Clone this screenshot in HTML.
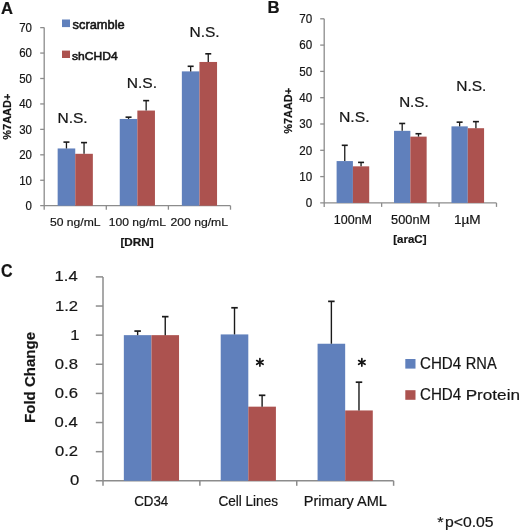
<!DOCTYPE html><html><head><meta charset="utf-8"><style>html,body{margin:0;padding:0;background:#fff;width:520px;height:532px;overflow:hidden}svg{display:block;filter:blur(0.3px)}text{font-family:"Liberation Sans",sans-serif;fill:#151515;stroke:#151515;stroke-width:0.2px}.lg text{stroke-width:0.55px}</style></head><body>
<svg width="520" height="532" viewBox="0 0 520 532">
<line x1="44.2" y1="27.62" x2="44.2" y2="209.7" stroke="#8c8c8c" stroke-width="1.3"/>
<line x1="40.2" y1="205.7" x2="230.5" y2="205.7" stroke="#8c8c8c" stroke-width="1.3"/>
<line x1="40.2" y1="180.26" x2="44.2" y2="180.26" stroke="#8c8c8c" stroke-width="1.3"/>
<line x1="40.2" y1="154.82" x2="44.2" y2="154.82" stroke="#8c8c8c" stroke-width="1.3"/>
<line x1="40.2" y1="129.38" x2="44.2" y2="129.38" stroke="#8c8c8c" stroke-width="1.3"/>
<line x1="40.2" y1="103.94" x2="44.2" y2="103.94" stroke="#8c8c8c" stroke-width="1.3"/>
<line x1="40.2" y1="78.5" x2="44.2" y2="78.5" stroke="#8c8c8c" stroke-width="1.3"/>
<line x1="40.2" y1="53.06" x2="44.2" y2="53.06" stroke="#8c8c8c" stroke-width="1.3"/>
<line x1="40.2" y1="27.62" x2="44.2" y2="27.62" stroke="#8c8c8c" stroke-width="1.3"/>
<line x1="106.3" y1="205.7" x2="106.3" y2="209.7" stroke="#8c8c8c" stroke-width="1.3"/>
<line x1="168.4" y1="205.7" x2="168.4" y2="209.7" stroke="#8c8c8c" stroke-width="1.3"/>
<line x1="230.5" y1="205.7" x2="230.5" y2="209.7" stroke="#8c8c8c" stroke-width="1.3"/>
<rect x="57.65" y="148.46" width="17.6" height="57.24" fill="#6080BC"/>
<rect x="75.25" y="153.8" width="17.6" height="51.9" fill="#AC524F"/>
<rect x="119.75" y="118.95" width="17.6" height="86.75" fill="#6080BC"/>
<rect x="137.35" y="110.55" width="17.6" height="95.15" fill="#AC524F"/>
<rect x="181.85" y="71.38" width="17.6" height="134.32" fill="#6080BC"/>
<rect x="199.45" y="61.96" width="17.6" height="143.74" fill="#AC524F"/>
<line x1="66.45" y1="148.46" x2="66.45" y2="142.1" stroke="#1a1a1a" stroke-width="1.3"/>
<line x1="63.45" y1="142.1" x2="69.45" y2="142.1" stroke="#1a1a1a" stroke-width="1.6"/>
<line x1="84.05" y1="153.8" x2="84.05" y2="142.61" stroke="#1a1a1a" stroke-width="1.3"/>
<line x1="81.05" y1="142.61" x2="87.05" y2="142.61" stroke="#1a1a1a" stroke-width="1.6"/>
<line x1="128.55" y1="118.95" x2="128.55" y2="117.17" stroke="#1a1a1a" stroke-width="1.3"/>
<line x1="125.55" y1="117.17" x2="131.55" y2="117.17" stroke="#1a1a1a" stroke-width="1.6"/>
<line x1="146.15" y1="110.55" x2="146.15" y2="100.63" stroke="#1a1a1a" stroke-width="1.3"/>
<line x1="143.15" y1="100.63" x2="149.15" y2="100.63" stroke="#1a1a1a" stroke-width="1.6"/>
<line x1="190.65" y1="71.38" x2="190.65" y2="66.29" stroke="#1a1a1a" stroke-width="1.3"/>
<line x1="187.65" y1="66.29" x2="193.65" y2="66.29" stroke="#1a1a1a" stroke-width="1.6"/>
<line x1="208.25" y1="61.96" x2="208.25" y2="53.82" stroke="#1a1a1a" stroke-width="1.3"/>
<line x1="205.25" y1="53.82" x2="211.25" y2="53.82" stroke="#1a1a1a" stroke-width="1.6"/>
<line x1="324.2" y1="18.8" x2="324.2" y2="206.9" stroke="#8c8c8c" stroke-width="1.3"/>
<line x1="320.2" y1="202.9" x2="496.49" y2="202.9" stroke="#8c8c8c" stroke-width="1.3"/>
<line x1="320.2" y1="176.6" x2="324.2" y2="176.6" stroke="#8c8c8c" stroke-width="1.3"/>
<line x1="320.2" y1="150.3" x2="324.2" y2="150.3" stroke="#8c8c8c" stroke-width="1.3"/>
<line x1="320.2" y1="124" x2="324.2" y2="124" stroke="#8c8c8c" stroke-width="1.3"/>
<line x1="320.2" y1="97.7" x2="324.2" y2="97.7" stroke="#8c8c8c" stroke-width="1.3"/>
<line x1="320.2" y1="71.4" x2="324.2" y2="71.4" stroke="#8c8c8c" stroke-width="1.3"/>
<line x1="320.2" y1="45.1" x2="324.2" y2="45.1" stroke="#8c8c8c" stroke-width="1.3"/>
<line x1="320.2" y1="18.8" x2="324.2" y2="18.8" stroke="#8c8c8c" stroke-width="1.3"/>
<line x1="381.63" y1="202.9" x2="381.63" y2="206.9" stroke="#8c8c8c" stroke-width="1.3"/>
<line x1="439.06" y1="202.9" x2="439.06" y2="206.9" stroke="#8c8c8c" stroke-width="1.3"/>
<line x1="496.49" y1="202.9" x2="496.49" y2="206.9" stroke="#8c8c8c" stroke-width="1.3"/>
<rect x="336.61" y="161.08" width="16.3" height="41.82" fill="#6080BC"/>
<rect x="352.91" y="166.34" width="16.3" height="36.56" fill="#AC524F"/>
<rect x="394.04" y="130.84" width="16.3" height="72.06" fill="#6080BC"/>
<rect x="410.34" y="136.62" width="16.3" height="66.28" fill="#AC524F"/>
<rect x="451.47" y="126.37" width="16.3" height="76.53" fill="#6080BC"/>
<rect x="467.77" y="128.21" width="16.3" height="74.69" fill="#AC524F"/>
<line x1="344.76" y1="161.08" x2="344.76" y2="145.3" stroke="#1a1a1a" stroke-width="1.3"/>
<line x1="341.76" y1="145.3" x2="347.76" y2="145.3" stroke="#1a1a1a" stroke-width="1.6"/>
<line x1="361.06" y1="166.34" x2="361.06" y2="162.4" stroke="#1a1a1a" stroke-width="1.3"/>
<line x1="358.06" y1="162.4" x2="364.06" y2="162.4" stroke="#1a1a1a" stroke-width="1.6"/>
<line x1="402.19" y1="130.84" x2="402.19" y2="123.47" stroke="#1a1a1a" stroke-width="1.3"/>
<line x1="399.19" y1="123.47" x2="405.19" y2="123.47" stroke="#1a1a1a" stroke-width="1.6"/>
<line x1="418.49" y1="136.62" x2="418.49" y2="133.73" stroke="#1a1a1a" stroke-width="1.3"/>
<line x1="415.49" y1="133.73" x2="421.49" y2="133.73" stroke="#1a1a1a" stroke-width="1.6"/>
<line x1="459.62" y1="126.37" x2="459.62" y2="122.16" stroke="#1a1a1a" stroke-width="1.3"/>
<line x1="456.62" y1="122.16" x2="462.62" y2="122.16" stroke="#1a1a1a" stroke-width="1.6"/>
<line x1="475.92" y1="128.21" x2="475.92" y2="121.63" stroke="#1a1a1a" stroke-width="1.3"/>
<line x1="472.92" y1="121.63" x2="478.92" y2="121.63" stroke="#1a1a1a" stroke-width="1.6"/>
<line x1="103" y1="276.89" x2="103" y2="485.8" stroke="#8c8c8c" stroke-width="1.5"/>
<line x1="95.8" y1="480.8" x2="393.61" y2="480.8" stroke="#8c8c8c" stroke-width="1.5"/>
<line x1="95.8" y1="451.67" x2="103" y2="451.67" stroke="#8c8c8c" stroke-width="1.5"/>
<line x1="95.8" y1="422.54" x2="103" y2="422.54" stroke="#8c8c8c" stroke-width="1.5"/>
<line x1="95.8" y1="393.41" x2="103" y2="393.41" stroke="#8c8c8c" stroke-width="1.5"/>
<line x1="95.8" y1="364.28" x2="103" y2="364.28" stroke="#8c8c8c" stroke-width="1.5"/>
<line x1="95.8" y1="335.15" x2="103" y2="335.15" stroke="#8c8c8c" stroke-width="1.5"/>
<line x1="95.8" y1="306.02" x2="103" y2="306.02" stroke="#8c8c8c" stroke-width="1.5"/>
<line x1="95.8" y1="276.89" x2="103" y2="276.89" stroke="#8c8c8c" stroke-width="1.5"/>
<line x1="199.87" y1="480.8" x2="199.87" y2="485.8" stroke="#8c8c8c" stroke-width="1.5"/>
<line x1="296.74" y1="480.8" x2="296.74" y2="485.8" stroke="#8c8c8c" stroke-width="1.5"/>
<line x1="393.61" y1="480.8" x2="393.61" y2="485.8" stroke="#8c8c8c" stroke-width="1.5"/>
<rect x="123.84" y="335.15" width="27.6" height="145.65" fill="#6080BC"/>
<rect x="151.44" y="335.15" width="27.6" height="145.65" fill="#AC524F"/>
<rect x="220.71" y="334.42" width="27.6" height="146.38" fill="#6080BC"/>
<rect x="248.31" y="406.66" width="27.6" height="74.14" fill="#AC524F"/>
<rect x="317.57" y="343.74" width="27.6" height="137.06" fill="#6080BC"/>
<rect x="345.18" y="410.45" width="27.6" height="70.35" fill="#AC524F"/>
<line x1="137.64" y1="335.15" x2="137.64" y2="331.07" stroke="#1a1a1a" stroke-width="1.4"/>
<line x1="134.39" y1="331.07" x2="140.89" y2="331.07" stroke="#1a1a1a" stroke-width="1.7"/>
<line x1="165.24" y1="335.15" x2="165.24" y2="316.65" stroke="#1a1a1a" stroke-width="1.4"/>
<line x1="161.99" y1="316.65" x2="168.49" y2="316.65" stroke="#1a1a1a" stroke-width="1.7"/>
<line x1="234.51" y1="334.42" x2="234.51" y2="307.77" stroke="#1a1a1a" stroke-width="1.4"/>
<line x1="231.26" y1="307.77" x2="237.76" y2="307.77" stroke="#1a1a1a" stroke-width="1.7"/>
<line x1="262.11" y1="406.66" x2="262.11" y2="395.3" stroke="#1a1a1a" stroke-width="1.4"/>
<line x1="258.86" y1="395.3" x2="265.36" y2="395.3" stroke="#1a1a1a" stroke-width="1.7"/>
<line x1="331.38" y1="343.74" x2="331.38" y2="301.36" stroke="#1a1a1a" stroke-width="1.4"/>
<line x1="328.12" y1="301.36" x2="334.62" y2="301.36" stroke="#1a1a1a" stroke-width="1.7"/>
<line x1="358.98" y1="410.45" x2="358.98" y2="382.19" stroke="#1a1a1a" stroke-width="1.4"/>
<line x1="355.73" y1="382.19" x2="362.23" y2="382.19" stroke="#1a1a1a" stroke-width="1.7"/>
<text transform="translate(1.09 13.6) scale(0.9991 1)" font-size="16.582" font-weight="bold">A</text>
<text transform="translate(267.47 13.3) scale(1.0084 1)" font-size="16.582" font-weight="bold">B</text>
<text transform="translate(1.06 276.6) scale(0.9165 1)" font-size="17.491" font-weight="bold">C</text>
<text transform="translate(25.57 210) scale(0.9400 1)" font-size="12.200">0</text>
<text transform="translate(19.2 184.56) scale(0.9400 1)" font-size="12.200">10</text>
<text transform="translate(19.2 159.12) scale(0.9400 1)" font-size="12.200">20</text>
<text transform="translate(19.2 133.68) scale(0.9400 1)" font-size="12.200">30</text>
<text transform="translate(19.2 108.24) scale(0.9400 1)" font-size="12.200">40</text>
<text transform="translate(19.2 82.8) scale(0.9400 1)" font-size="12.200">50</text>
<text transform="translate(19.2 57.36) scale(0.9400 1)" font-size="12.200">60</text>
<text transform="translate(19.2 31.92) scale(0.9400 1)" font-size="12.200">70</text>
<text transform="translate(305.79 207.1) scale(0.9600 1)" font-size="12.100">0</text>
<text transform="translate(299.34 180.8) scale(0.9600 1)" font-size="12.100">10</text>
<text transform="translate(299.34 154.5) scale(0.9600 1)" font-size="12.100">20</text>
<text transform="translate(299.34 128.2) scale(0.9600 1)" font-size="12.100">30</text>
<text transform="translate(299.34 101.9) scale(0.9600 1)" font-size="12.100">40</text>
<text transform="translate(299.34 75.6) scale(0.9600 1)" font-size="12.100">50</text>
<text transform="translate(299.34 49.3) scale(0.9600 1)" font-size="12.100">60</text>
<text transform="translate(299.34 23) scale(0.9600 1)" font-size="12.100">70</text>
<text transform="translate(70.09 485.4) scale(1.1400 1)" font-size="14.600">0</text>
<text transform="translate(55 456.27) scale(1.1400 1)" font-size="14.600">0.2</text>
<text transform="translate(54.62 427.14) scale(1.1400 1)" font-size="14.600">0.4</text>
<text transform="translate(54.87 398.01) scale(1.1400 1)" font-size="14.600">0.6</text>
<text transform="translate(54.87 368.88) scale(1.1400 1)" font-size="14.600">0.8</text>
<text transform="translate(70.25 339.75) scale(1.1400 1)" font-size="14.600">1</text>
<text transform="translate(55 310.62) scale(1.1400 1)" font-size="14.600">1.2</text>
<text transform="translate(54.62 281.49) scale(1.1400 1)" font-size="14.600">1.4</text>
<text transform="translate(11.2 139.78) rotate(-90) scale(1.0370 1)" font-size="10.647" font-weight="bold">%7AAD+</text>
<text transform="translate(291.7 133.77) rotate(-90) scale(1.0397 1)" font-size="10.504" font-weight="bold">%7AAD+</text>
<text transform="translate(35.3 422.91) rotate(-90) scale(0.9906 1)" font-size="15.172" font-weight="bold">Fold Change</text>
<text transform="translate(50.01 226.4) scale(1.0475 1)" font-size="11.586">50 ng/mL</text>
<text transform="translate(108.79 226.4) scale(1.0449 1)" font-size="11.586">100 ng/mL</text>
<text transform="translate(170.39 226.4) scale(1.0541 1)" font-size="11.586">200 ng/mL</text>
<text transform="translate(120.45 245.64) scale(1.1299 1)" font-size="10.402" font-weight="bold">[DRN]</text>
<text transform="translate(333.76 224.1) scale(1.0035 1)" font-size="12.473">100nM</text>
<text transform="translate(391.09 224.1) scale(1.0243 1)" font-size="12.473">500nM</text>
<text transform="translate(453.98 224.1) scale(1.0755 1)" font-size="12.655">1&#181;M</text>
<text transform="translate(393.16 243.35) scale(0.9789 1)" font-size="11.796" font-weight="bold">[araC]</text>
<text transform="translate(134.13 506.4) scale(0.9136 1)" font-size="14.624">CD34</text>
<text transform="translate(218.42 506.2) scale(0.9653 1)" font-size="14.069">Cell Lines</text>
<text transform="translate(303.8 506.2) scale(1.0331 1)" font-size="14.069">Primary AML</text>
<text transform="translate(57.47 122.5) scale(1.0822 1)" font-size="14.337">N.S.</text>
<text transform="translate(126.72 87.5) scale(1.0545 1)" font-size="14.767">N.S.</text>
<text transform="translate(189.47 36.9) scale(1.0405 1)" font-size="14.910">N.S.</text>
<text transform="translate(338.9 121.9) scale(1.0764 1)" font-size="14.624">N.S.</text>
<text transform="translate(399.15 106.9) scale(1.0277 1)" font-size="14.767">N.S.</text>
<text transform="translate(456.22 91) scale(1.0405 1)" font-size="14.910">N.S.</text>
<rect x="62" y="19.5" width="8" height="7.6" fill="#6080BC"/>
<rect x="62" y="50.6" width="8" height="7.4" fill="#AC524F"/>
<g class="lg">
<text transform="translate(72.55 29.1) scale(1.0487 1)" font-size="12.276">scramble</text>
<text transform="translate(72.07 60) scale(1.0796 1)" font-size="11.172">shCHD4</text>
</g>
<rect x="405.3" y="359" width="10.2" height="9.6" fill="#6080BC"/>
<rect x="405.3" y="390.2" width="10.2" height="9.6" fill="#AC524F"/>
<text transform="translate(419.94 368.7) scale(0.9613 1)" font-size="15.771">CHD4</text>
<text transform="translate(465.79 368.7) scale(0.9155 1)" font-size="16.000">RNA</text>
<text transform="translate(419.94 400.3) scale(0.9442 1)" font-size="16.057">CHD4</text>
<text transform="translate(465.68 400.3) scale(1.1103 1)" font-size="15.448">Protein</text>
<line x1="259.9" y1="358.7" x2="259.9" y2="366.1" stroke="#151515" stroke-width="1.7" stroke-linecap="round"/>
<line x1="256.7" y1="360.55" x2="263.1" y2="364.25" stroke="#151515" stroke-width="1.7" stroke-linecap="round"/>
<line x1="263.1" y1="360.55" x2="256.7" y2="364.25" stroke="#151515" stroke-width="1.7" stroke-linecap="round"/>
<line x1="361.85" y1="358.7" x2="361.85" y2="366.1" stroke="#151515" stroke-width="1.7" stroke-linecap="round"/>
<line x1="358.65" y1="360.55" x2="365.05" y2="364.25" stroke="#151515" stroke-width="1.7" stroke-linecap="round"/>
<line x1="365.05" y1="360.55" x2="358.65" y2="364.25" stroke="#151515" stroke-width="1.7" stroke-linecap="round"/>
<text transform="translate(437.31 527.01) scale(1.0589 1)" font-size="15.429">*</text>
<text transform="translate(444.97 527.2) scale(1.0892 1)" font-size="14.480">p&lt;0.05</text>
</svg></body></html>
